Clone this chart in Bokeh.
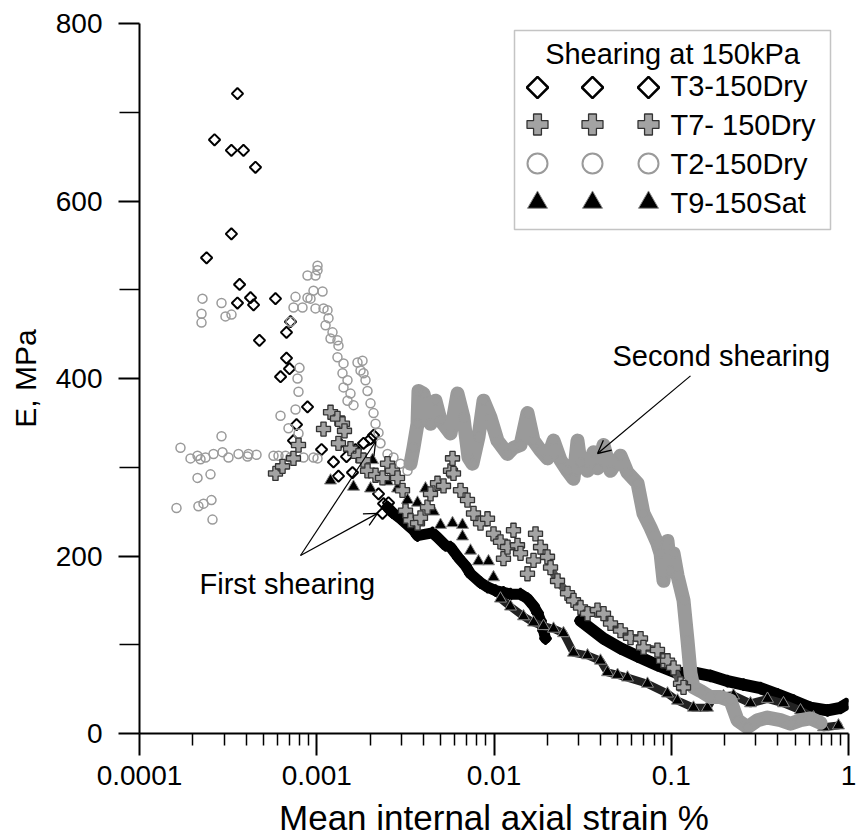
import numpy as np
from bokeh.plotting import figure
from bokeh.models import Range1d, FixedTicker, Arrow, OpenHead, BoxAnnotation, Label
from bokeh.core.properties import value
from bokeh.embed import file_html
from bokeh.resources import INLINE

FONT = "Liberation Sans"

# ---------------- data: secant modulus E (MPa) vs mean internal axial strain (%) ----------------
# T3-150Dry: isolated readings, then two dense runs
t3_strain = [3.57e-4, 2.65e-4, 3.30e-4, 3.86e-4, 4.51e-4, 3.30e-4, 2.39e-4, 3.67e-4, 3.57e-4, 4.23e-4,
             4.40e-4, 5.85e-4, 7.11e-4, 6.75e-4, 4.75e-4, 6.75e-4, 7.02e-4, 6.25e-4, 8.87e-4, 7.69e-4,
             7.39e-4, 1.064e-3, 1.344e-3, 1.243e-3, 1.326e-3, 1.472e-3, 1.591e-3, 1.654e-3, 1.836e-3, 2.011e-3,
             2.091e-3, 2.231e-3, 2.381e-3, 2.540e-3, 2.350e-3]
t3_E = [721, 669, 657, 657, 638, 563, 536, 506, 485, 491,
        483, 490, 464, 452, 443, 423, 411, 402, 368, 348,
        330, 320, 327, 306, 290, 312, 294, 320, 327, 332,
        336, 270, 259, 260, 248]
t3_run1_strain = [2.507e-3, 2.675e-3, 2.969e-3, 3.251e-3, 3.514e-3, 3.702e-3, 4.498e-3, 4.80e-3, 5.327e-3, 5.683e-3,
                  6.31e-3, 6.906e-3, 7.369e-3, 8.391e-3, 9.191e-3, 1.02e-2, 1.131e-2, 1.239e-2, 1.411e-2, 1.545e-2,
                  1.671e-2, 1.76e-2, 1.83e-2, 1.903e-2, 1.953e-2]
t3_run1_E = [255, 249, 242, 235, 229, 223, 226, 221, 212, 210,
             198, 189, 180, 170, 165, 161, 159, 157, 157, 152,
             144, 136, 127, 116, 107]
t3_run2_strain = [3.076e-2, 4.148e-2, 5.172e-2, 6.451e-2, 8.364e-2, 0.1085, 0.1335, 0.1665, 0.2077, 0.2556,
                  0.3188, 0.3974, 0.4895, 0.6104, 0.7613, 0.9014, 0.97]
t3_run2_E = [127, 107, 96, 87, 77, 68, 69, 65, 59, 55,
             51, 44, 37, 29, 26, 29, 33]

# T7- 150Dry
t7_strain = [5.85e-4, 6.41e-4, 7.39e-4, 7.89e-4, 1.092e-3, 1.196e-3, 1.309e-3, 1.397e-3, 1.434e-3, 1.326e-3,
             1.55e-3, 1.72e-3, 1.836e-3, 1.934e-3, 2.146e-3, 2.35e-3, 2.507e-3, 2.675e-3, 2.855e-3, 3.047e-3,
             3.168e-3, 3.38e-3, 3.702e-3, 3.849e-3, 4.215e-3, 4.383e-3, 4.8e-3, 5.19e-3, 5.683e-3, 5.833e-3,
             5.909e-3, 6.471e-3, 7.087e-3, 7.662e-3, 8.391e-3, 9.191e-3, 9.936e-3, 1.088e-2, 1.131e-2, 1.192e-2,
             1.288e-2, 1.357e-2, 1.411e-2, 1.545e-2, 1.671e-2, 1.715e-2, 1.83e-2]
t7_E = [293, 301, 310, 325, 343, 362, 355, 349, 341, 327,
        321, 313, 308, 296, 291, 288, 304, 296, 288, 274,
        251, 240, 237, 243, 255, 270, 282, 279, 296, 310,
        293, 274, 263, 248, 237, 242, 225, 216, 197, 210,
        229, 212, 203, 180, 195, 225, 210]
t7_run_strain = [2.004e-2, 2.084e-2, 2.282e-2, 2.598e-2, 2.809e-2, 3.076e-2, 3.37e-2, 3.837e-2, 4.148e-2, 4.543e-2,
                 5.172e-2, 5.89e-2, 6.708e-2, 6.97e-2, 8.364e-2, 9.044e-2, 9.525e-2, 0.103, 0.1128, 0.1173]
t7_run_E = [199, 187, 172, 158, 150, 142, 135, 139, 135, 124,
            116, 108, 107, 97, 94, 82, 82, 74, 56, 52]

# T2-150Dry
t2_strain = [1.703e-4, 1.617e-4, 1.94e-4, 2.125e-4, 2.209e-4, 2.357e-4, 2.615e-4, 2.902e-4, 2.94e-4, 3.177e-4,
             3.619e-4, 4.067e-4, 4.12e-4, 4.573e-4, 5.702e-4, 6.084e-4, 6.663e-4, 7.11e-4, 8.418e-4, 9.587e-4,
             1.01e-3, 2.125e-4, 2.515e-4, 2.15e-4, 2.297e-4, 2.548e-4, 2.581e-4, 2.267e-4, 2.238e-4, 2.238e-4,
             2.902e-4, 3.056e-4, 3.304e-4, 6.245e-4, 7.589e-4, 6.927e-4, 7.889e-4, 7.993e-4, 7.789e-4, 7.889e-4,
             7.11e-4, 7.394e-4, 8.31e-4, 7.589e-4, 8.868e-4, 9.22e-4, 8.868e-4, 9.84e-4, 1.01e-3, 1.01e-3,
             9.587e-4, 1.078e-3, 9.84e-4, 1.092e-3, 1.15e-3, 1.165e-3, 1.121e-3, 1.227e-3, 1.196e-3, 1.309e-3,
             1.326e-3, 1.309e-3, 1.416e-3, 1.397e-3, 1.491e-3, 1.416e-3, 1.491e-3, 1.55e-3, 1.612e-3, 1.698e-3,
             1.812e-3, 1.766e-3, 1.836e-3, 1.884e-3, 1.934e-3, 2.011e-3, 2.091e-3, 2.146e-3, 2.231e-3, 2.29e-3,
             2.507e-3, 2.71e-3, 2.969e-3, 3.251e-3]
t2_E = [322, 254, 310, 313, 309, 311, 315, 335, 317, 311,
        315, 312, 315, 314, 313, 313, 313, 311, 311, 311,
        310, 288, 292, 256, 259, 263, 241, 490, 473, 463,
        485, 470, 472, 358, 365, 344, 338, 412, 400, 385,
        464, 480, 480, 492, 491, 490, 516, 516, 527, 522,
        499, 498, 479, 479, 477, 468, 460, 452, 445, 443,
        437, 424, 417, 406, 398, 390, 375, 383, 370, 418,
        420, 409, 406, 398, 386, 372, 361, 349, 339, 327,
        315, 311, 304, 296]
t2_run_strain = [3.38e-3, 3.514e-3, 3.702e-3, 3.75e-3, 4.002e-3, 4.383e-3, 4.677e-3, 4.991e-3, 5.683e-3, 6.224e-3,
                 6.728e-3, 7.18e-3, 7.563e-3, 8.175e-3, 8.727e-3, 9.557e-3, 1.046e-2, 1.192e-2, 1.288e-2, 1.411e-2,
                 1.545e-2, 1.671e-2, 1.83e-2, 2.004e-2, 2.167e-2, 2.372e-2, 2.598e-2, 2.809e-2, 2.959e-2, 3.076e-2,
                 3.37e-2, 3.643e-2, 3.837e-2, 4.148e-2, 4.543e-2, 5.172e-2, 5.665e-2, 6.451e-2, 6.97e-2, 7.64e-2,
                 8.364e-2, 8.698e-2, 9.044e-2, 9.525e-2, 9.903e-2, 0.103, 0.1085, 0.1173, 0.1235, 0.1284,
                 0.1335, 0.1462, 0.1665, 0.1896, 0.2159, 0.2365, 0.2693, 0.3067, 0.3491, 0.4134,
                 0.4709, 0.5361, 0.6104, 0.695]
t2_run_E = [304, 322, 349, 386, 383, 349, 375, 353, 338, 383,
            356, 311, 304, 334, 375, 356, 330, 315, 322, 325,
            361, 330, 319, 310, 330, 308, 296, 287, 330, 305,
            296, 317, 299, 325, 296, 313, 294, 282, 248, 232,
            214, 203, 172, 217, 184, 203, 178, 150, 105, 68,
            52, 48, 41, 41, 37, 15, 7, 15, 18, 15,
            11, 15, 17, 12]

# T9-150Sat
t9_strain = [1.196e-3, 1.612e-3, 2.064e-3, 2.011e-3, 2.507e-3, 2.855e-3, 3.251e-3, 3.702e-3, 4.107e-3, 4.558e-3,
             4.991e-3, 5.833e-3, 6.641e-3, 6.641e-3, 7.369e-3, 8.175e-3, 9.311e-3, 9.936e-3]
t9_E = [285, 278, 308, 276, 284, 276, 263, 260, 276, 250,
        235, 237, 235, 222, 206, 194, 194, 176]
t9_run_strain = [1.088e-2, 1.239e-2, 1.467e-2, 1.671e-2, 1.903e-2, 2.167e-2, 2.466e-2, 2.809e-2, 3.37e-2, 3.989e-2,
                 4.369e-2, 4.98e-2, 5.665e-2, 7.345e-2, 9.525e-2, 0.1085, 0.1335, 0.1601, 0.1731, 0.1971,
                 0.2245, 0.28, 0.3491, 0.4298, 0.5361, 0.6346, 0.7227, 0.878]
t9_run_E = [152, 143, 132, 125, 121, 118, 113, 91, 88, 82,
            69, 66, 63, 56, 45, 37, 29, 29, 41, 42,
            43, 34, 39, 34, 26, 18, 7, 9]

x_ticks = [1e-4, 1e-3, 1e-2, 1e-1, 1.0]
x_tick_labels = ["0.0001", "0.001", "0.01", "0.1", "1"]
y_ticks = [0, 200, 400, 600, 800]
y_minor_ticks = [100, 300, 500, 700]
x_title = "Mean internal axial strain %"
y_title = "E, MPa"
legend_title = "Shearing at 150kPa"
series_names = ["T3-150Dry", "T7- 150Dry", "T2-150Dry", "T9-150Sat"]

# ---------------- figure ----------------
FRAME_LEFT, FRAME_TOP, FRAME_W, FRAME_H = 139, 23, 709, 710

p = figure(frame_width=FRAME_W, frame_height=FRAME_H,
           x_axis_type="log", x_range=Range1d(1e-4, 1.0), y_range=Range1d(0, 800),
           output_backend="svg", toolbar_location=None,
           min_border_left=FRAME_LEFT, min_border_right=857 - FRAME_LEFT - FRAME_W,
           min_border_top=FRAME_TOP, min_border_bottom=838 - FRAME_TOP - FRAME_H)
p.outline_line_color = None
p.grid.visible = False
p.background_fill_color = "white"
p.border_fill_color = "white"


# canvas-pixel helpers for the legend and the annotations
def sx(px):
    return 10 ** (-4 + 4 * (px - FRAME_LEFT) / FRAME_W)


def sy(py):
    return 800 * (FRAME_TOP + FRAME_H - py) / FRAME_H


# the text renderer sits its alphabetic baseline a little low; lift every baseline by this much
BASE_LIFT = 10

GRAY = "#9a9a9a"
styles = {
    "t3": dict(marker="square", angle=np.pi / 4, size=8, fill_color=None, line_color="black", line_width=2),
    "t7": dict(marker="plus", size=14, fill_color="#a3a3a3", line_color="#333333", line_width=1.3),
    "t2": dict(marker="circle", size=9, fill_color=None, line_color=GRAY, line_width=1.5),
    "t9": dict(marker="triangle", size=12, fill_color="black", line_color="#8a8a8a", line_width=1),
}
# the legend shows each symbol at roughly twice the plotted size
legend_styles = {
    "t3": dict(styles["t3"], size=15, line_width=2.5),
    "t7": dict(styles["t7"], size=21, line_width=1.3),
    "t2": dict(styles["t2"], size=20, line_width=2),
    "t9": dict(styles["t9"], size=20, line_width=1),
}

# T3
p.line(t3_run1_strain, t3_run1_E, line_color="black", line_width=11, line_join="round", line_cap="round")
p.line(t3_run2_strain, t3_run2_E, line_color="black", line_width=12, line_join="round", line_cap="round")
p.scatter(t3_strain, t3_E, **styles["t3"])
p.scatter(t3_run1_strain, t3_run1_E, **styles["t3"])
p.scatter(t3_run2_strain, t3_run2_E, **styles["t3"])

# T9
p.line(t9_run_strain, t9_run_E, line_color="#222222", line_width=8, line_join="round", line_cap="round")
p.scatter(t9_strain, t9_E, **styles["t9"])
p.scatter(t9_run_strain, t9_run_E, **styles["t9"])

# T2
p.line(t2_run_strain, t2_run_E, line_color=GRAY, line_width=14, line_join="round", line_cap="round")
p.scatter(t2_strain, t2_E, **styles["t2"])
p.scatter(t2_run_strain, t2_run_E, **styles["t2"])

# T7
p.line(t7_run_strain, t7_run_E, line_color="#555555", line_width=8, line_join="round", line_cap="round")
p.scatter(t7_strain, t7_E, **styles["t7"])
p.scatter(t7_run_strain, t7_run_E, **styles["t7"])

# ---------------- axes ----------------
x_minor = [m * 10.0 ** e for e in range(-4, 0) for m in range(2, 10)]
p.xaxis.ticker = FixedTicker(ticks=x_ticks, minor_ticks=x_minor)
p.xaxis.major_label_overrides = {t: s for t, s in zip(x_ticks, x_tick_labels)}
p.yaxis.ticker = FixedTicker(ticks=y_ticks, minor_ticks=y_minor_ticks)

p.xaxis.axis_label = x_title
p.yaxis.axis_label = y_title

for ax in (p.xaxis, p.yaxis):
    ax.axis_line_color = "black"
    ax.axis_line_width = 2
    ax.major_tick_line_color = "black"
    ax.major_tick_line_width = 2
    ax.minor_tick_line_color = "black"
    ax.minor_tick_line_width = 1.5
    ax.major_tick_in = 0
    ax.minor_tick_in = 0
    ax.major_label_text_font = FONT
    ax.major_label_text_font_size = "28px"
    ax.major_label_text_color = "black"
    ax.axis_label_text_font = FONT
    ax.axis_label_text_font_style = "normal"
    ax.axis_label_text_color = "black"

p.xaxis.axis_label_text_font_size = "35px"
p.yaxis.axis_label_text_font_size = "30px"
p.xaxis.major_tick_out = 22
p.xaxis.minor_tick_out = 12
p.xaxis.major_label_standoff = 10
p.xaxis.axis_label_standoff = 10
p.yaxis.major_tick_out = 21
p.yaxis.minor_tick_out = 20
p.yaxis.major_label_standoff = 16
p.yaxis.axis_label_standoff = 11

# ---------------- legend ----------------
p.add_layout(BoxAnnotation(left=sx(514), right=sx(830), top=sy(30), bottom=sy(229),
                           fill_color=None, line_color="#3a3a3a", line_width=1.5))
p.text(x=[sx(672)], y=[sy(63 - BASE_LIFT)], text=[legend_title], text_font=value(FONT), text_font_size="29px",
       text_align="center", text_baseline="alphabetic", text_color="black")

rows = [("t3", 87, 95), ("t7", 124, 134), ("t2", 163, 173), ("t9", 202, 212)]
for (key, cy, base), name in zip(rows, series_names):
    p.scatter([sx(537), sx(592), sx(648)], [sy(cy)] * 3, **legend_styles[key])
    p.text(x=[sx(670)], y=[sy(base - BASE_LIFT)], text=[name], text_font=value(FONT), text_font_size="29px",
           text_align="left", text_baseline="alphabetic", text_color="black")

# ---------------- annotations ----------------
p.add_layout(Label(x=2.18e-4, y=sy(593 - BASE_LIFT), text="First shearing", text_font=FONT, text_font_size="29px",
                   text_align="left", text_baseline="alphabetic", text_color="black"))
p.add_layout(Label(x=0.0466, y=sy(365 - BASE_LIFT), text="Second shearing", text_font=FONT, text_font_size="29px",
                   text_align="left", text_baseline="alphabetic", text_color="black"))

for xe, ye in [(2.15e-3, 329), (2.2e-3, 248)]:
    p.add_layout(Arrow(end=OpenHead(size=13, line_width=1.3, line_color="black"),
                       x_start=8.1e-4, y_start=200.6, x_end=xe, y_end=ye,
                       line_width=1.2, line_color="black"))
p.add_layout(Arrow(end=OpenHead(size=13, line_width=1.3, line_color="black"),
                   x_start=0.1284, y_start=403, x_end=0.0384, y_end=315.5,
                   line_width=1.2, line_color="black"))

open("out.html", "w").write(file_html(p, INLINE))
